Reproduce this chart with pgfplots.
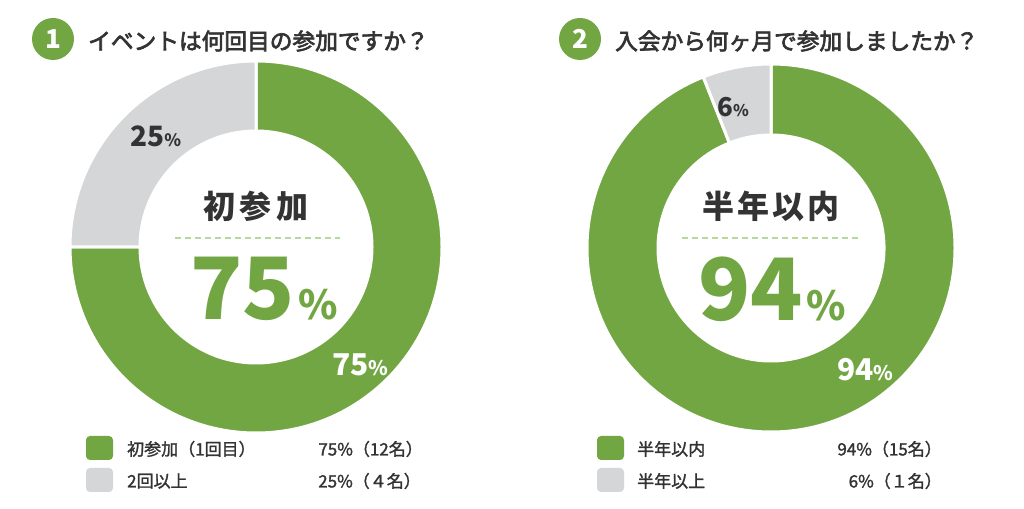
\documentclass[border=0pt]{standalone}
\usepackage{fontspec}
\setmainfont{Noto Sans CJK JP}
\usepackage{pgfplots}
\pgfplotsset{compat=1.18}
\usepackage{pgfplotstable}
\definecolor{grn}{HTML}{72A643}
\definecolor{gry}{HTML}{D5D6D8}
\definecolor{txt}{HTML}{333333}
\definecolor{dsh}{HTML}{B7D89C}

\pgfplotstableread{
cat value count
first 75 12
repeat 25 4
}\tabA
\pgfplotstableread{
cat value count
within 94 15
over 6 1
}\tabB

\newcommand{\fs}[1]{\fontsize{#1}{#1}\selectfont}
% cx cy R r a1 a2 colour
\newcommand{\slice}[7]{%
  \fill[#7, draw=white, line width=3pt]
    ([shift={(#5:#3pt)}]axis cs:#1,#2) arc[start angle=#5, end angle=#6, radius=#3pt]
    -- ([shift={(#6:#4pt)}]axis cs:#1,#2) arc[start angle=#6, end angle=#5, radius=#4pt]
    -- cycle;}

\begin{document}
\begin{tikzpicture}
\pgfplotstablegetelem{0}{value}\of\tabA \let\vAa\pgfplotsretval
\pgfplotstablegetelem{1}{value}\of\tabA \let\vAb\pgfplotsretval
\pgfplotstablegetelem{0}{count}\of\tabA \let\cAa\pgfplotsretval
\pgfplotstablegetelem{0}{value}\of\tabB \let\vBa\pgfplotsretval
\pgfplotstablegetelem{1}{value}\of\tabB \let\vBb\pgfplotsretval
\pgfplotstablegetelem{0}{count}\of\tabB \let\cBa\pgfplotsretval
\pgfmathsetmacro\aA{90-3.6*\vAa}
\pgfmathsetmacro\aAb{\aA-3.6*\vAb}
\pgfmathsetmacro\aB{90-3.6*\vBa}
\pgfmathsetmacro\aBb{\aB-3.6*\vBb}
\begin{axis}[at={(0,0)}, anchor=south west, scale only axis,
  width=1024pt, height=508pt, xmin=0, xmax=1024, ymin=0, ymax=508,
  hide axis, clip=false]
\fill[white] (axis cs:0,0) rectangle (axis cs:1024,508);
% donuts
\slice{256}{261}{186}{116}{90}{\aA}{grn}
\slice{256}{261}{186}{116}{\aA}{\aAb}{gry}
\slice{771}{260}{184}{113}{90}{\aB}{grn}
\slice{771}{260}{184}{113}{\aB}{\aBb}{gry}
% titles
\fill[grn] (axis cs:53,469) circle[radius=21pt];
\node[white, font=\fs{26}\bfseries, inner sep=0] at (axis cs:53,469) {1};
\node[anchor=west, inner sep=0, txt, font=\fs{22.7}\addfontfeature{FakeBold=3}] at (axis cs:88,467) {イベントは何回目の参加ですか？};
\fill[grn] (axis cs:580,469) circle[radius=21pt];
\node[white, font=\fs{26}\bfseries, inner sep=0] at (axis cs:580,469) {2};
\node[anchor=west, inner sep=0, txt, font=\fs{22.7}\addfontfeature{FakeBold=3}] at (axis cs:615,467) {入会から何ヶ月で参加しましたか？};
% centre labels
\node[txt, font=\fs{32}\bfseries, inner sep=0] at (axis cs:256,302) {初\hspace{5pt}参\hspace{5pt}加};
\node[txt, font=\fs{32}\bfseries, inner sep=0] at (axis cs:771,302) {半\hspace{3pt}年\hspace{3pt}以\hspace{3pt}内};
\draw[dsh, line width=2pt, dash pattern=on 6pt off 4pt] (axis cs:175,270) -- (axis cs:340,270);
\draw[dsh, line width=2pt, dash pattern=on 6pt off 4pt] (axis cs:682,270) -- (axis cs:859,270);
\node[anchor=base west, inner sep=0, grn, font=\fs{86}\bfseries] at (axis cs:190,188) {\vAa\hspace{4pt}{\fs{40}\%}};
\node[anchor=base west, inner sep=0, grn, font=\fs{86}\bfseries] at (axis cs:698,187) {\vBa\hspace{4pt}{\fs{40}\%}};
% slice labels
\node[anchor=base west, inner sep=0, txt, font=\fs{28}\bfseries] at (axis cs:130,361) {\vAb{\fs{17}\%}};
\node[anchor=base west, inner sep=0, white, font=\fs{30}\bfseries] at (axis cs:332,132) {\vAa{\fs{20}\%}};
\node[anchor=base west, inner sep=0, txt, font=\fs{26}\bfseries] at (axis cs:717,391) {\vBb{\fs{16}\%}};
\node[anchor=base west, inner sep=0, white, font=\fs{30}\bfseries] at (axis cs:837,127) {\vBa{\fs{20}\%}};
% legends
\fill[grn, rounded corners=4pt] (axis cs:86,48) rectangle (axis cs:113,72);
\fill[gry, rounded corners=4pt] (axis cs:86,16) rectangle (axis cs:113,40);
\node[anchor=west, inner sep=0, txt, font=\fs{17}\addfontfeature{FakeBold=1.5}] at (axis cs:127,59) {初参加（1回目）};
\node[anchor=west, inner sep=0, txt, font=\fs{17}\addfontfeature{FakeBold=1.5}] at (axis cs:127,27) {2回以上};
\node[anchor=east, inner sep=0, txt, font=\fs{17}\addfontfeature{FakeBold=1.5}] at (axis cs:423,59) {\vAa\%（\cAa 名）};
\node[anchor=east, inner sep=0, txt, font=\fs{17}\addfontfeature{FakeBold=1.5}] at (axis cs:421,27) {\vAb\%（４名）};
\fill[grn, rounded corners=4pt] (axis cs:597,48) rectangle (axis cs:624,72);
\fill[gry, rounded corners=4pt] (axis cs:597,16) rectangle (axis cs:624,40);
\node[anchor=west, inner sep=0, txt, font=\fs{17}\addfontfeature{FakeBold=1.5}] at (axis cs:637,59) {半年以内};
\node[anchor=west, inner sep=0, txt, font=\fs{17}\addfontfeature{FakeBold=1.5}] at (axis cs:637,27) {半年以上};
\node[anchor=east, inner sep=0, txt, font=\fs{17}\addfontfeature{FakeBold=1.5}] at (axis cs:942,59) {\vBa\%（\cBa 名）};
\node[anchor=east, inner sep=0, txt, font=\fs{17}\addfontfeature{FakeBold=1.5}] at (axis cs:942,27) {\vBb\%（１名）};
\end{axis}
\end{tikzpicture}
\end{document}
